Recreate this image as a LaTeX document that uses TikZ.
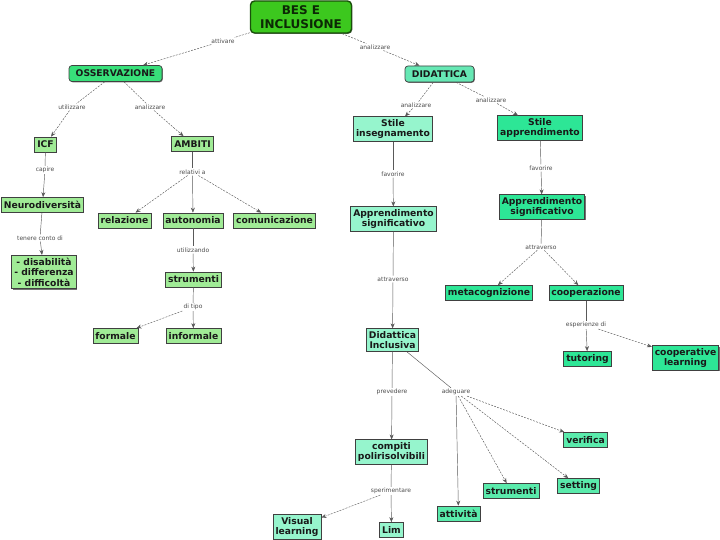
\documentclass[tikz,border=0pt]{standalone}
\usepackage{fontspec}
\setmainfont{DejaVu Sans}
\usetikzlibrary{arrows.meta,shadows}
\definecolor{besg}{RGB}{60,200,30}
\definecolor{besd}{RGB}{25,80,10}
\definecolor{ossg}{RGB}{56,224,122}
\definecolor{didg}{RGB}{102,232,180}
\definecolor{lgr}{RGB}{160,235,150}
\definecolor{laq}{RGB}{150,245,205}
\definecolor{maq}{RGB}{45,230,150}
\definecolor{maqb}{RGB}{90,235,172}
\tikzset{
  cbox/.style={draw=black!75, line width=0.7pt, inner xsep=2.5pt, inner ysep=2.5pt, align=center,
    minimum height=15pt,
    font=\fontsize{9.2}{10.5}\selectfont\bfseries, text=black!90,
    drop shadow={shadow xshift=0.8pt, shadow yshift=-0.8pt, opacity=0.55, fill=black}},
  lg/.style={cbox, fill=lgr},
  la/.style={cbox, fill=laq},
  ma/.style={cbox, fill=maq},
  mb/.style={cbox, fill=maqb},
  ossbox/.style={cbox, fill=ossg, rounded corners=3pt, minimum width=93pt, minimum height=16pt},
  didbox/.style={cbox, fill=didg, rounded corners=3pt, minimum width=69pt, minimum height=16pt},
  besbox/.style={cbox, fill=besg, draw=besd, line width=1.4pt, rounded corners=4pt,
    minimum width=101pt, minimum height=32pt, font=\fontsize{12}{14}\selectfont\bfseries, text=besd!50!black},
  lbl/.style={font=\fontsize{6}{7}\selectfont, text=black!70, inner sep=1pt},
  ln/.style={draw=black!65, line width=0.45pt},
  lnd/.style={ln, dash pattern=on 2pt off 1.2pt},
  arr/.style={-{Stealth[length=5pt,width=4pt]}},
}
\begin{document}
\begin{tikzpicture}[x=1pt,y=-1pt]
\useasboundingbox (0,0) rectangle (720,540);
% concepts
\node[besbox] (bes) at (301,17) {BES E\\INCLUSIONE};
\node[ossbox] (oss) at (115.5,73.5) {OSSERVAZIONE};
\node[didbox] (did) at (439.5,74) {DIDATTICA};
\node[lg] (icf) at (45.5,144.5) {ICF};
\node[lg] (amb) at (192.5,144) {AMBITI};
\node[lg] (neu) at (42.5,205) {Neurodiversità};
\node[lg] (rel) at (124.5,220.5) {relazione};
\node[lg] (aut) at (193,220.5) {autonomia};
\node[lg] (com) at (274.5,220.5) {comunicazione};
\node[lg] (dis) at (44,272) {- disabilità\\- differenza\\- difficoltà};
\node[lg] (strA) at (193.5,279.5) {strumenti};
\node[lg] (frm) at (115.5,336) {formale};
\node[lg] (inf) at (193.5,336) {informale};
\node[la] (sti) at (393,129) {Stile\\insegnamento};
\node[ma] (sta) at (540,128) {Stile\\apprendimento};
\node[la] (apsA) at (393.5,219) {Apprendimento\\significativo};
\node[ma] (apsB) at (542,207) {Apprendimento\\significativo};
\node[ma] (met) at (489,293) {metacognizione};
\node[ma] (coo) at (586,293) {cooperazione};
\node[la] (dinc) at (392.5,340) {Didattica\\Inclusiva};
\node[ma] (tut) at (587.5,359) {tutoring};
\node[ma] (cl) at (685.5,358) {cooperative\\learning};
\node[mb] (ver) at (585.5,440) {verifica};
\node[la] (cp) at (391.5,452) {compiti\\polirisolvibili};
\node[mb] (strB) at (511,491) {strumenti};
\node[mb] (sett) at (578.5,486) {setting};
\node[mb] (att) at (458.5,513.5) {attività};
\node[la] (vl) at (297,527) {Visual\\learning};
\node[la] (lim) at (391.5,530) {Lim};
% link labels
\node[lbl] (l1) at (223,41) {attivare};
\node[lbl] (l2) at (375,47) {analizzare};
\node[lbl] (l3) at (72,107) {utilizzare};
\node[lbl] (l4) at (150,107) {analizzare};
\node[lbl] (l5) at (45,170) {capire};
\node[lbl] (l6) at (40,238) {tenere conto di};
\node[lbl] (l7) at (192.5,172) {relativi a};
\node[lbl] (l8) at (193,250) {utilizzando};
\node[lbl] (l9) at (193,307) {di tipo};
\node[lbl] (l10) at (416,105) {analizzare};
\node[lbl] (l11) at (491,100) {analizzare};
\node[lbl] (l12) at (393,174) {favorire};
\node[lbl] (l13) at (541,168) {favorire};
\node[lbl] (l14) at (393,279) {attraverso};
\node[lbl] (l15) at (541,247) {attraverso};
\node[lbl] (l16) at (586,325) {esperienze di};
\node[lbl] (l17) at (392,392) {prevedere};
\node[lbl] (l18) at (456,392) {adeguare};
\node[lbl] (l19) at (391,491) {sperimentare};
% connectors
\draw[lnd] (bes) -- (l1);  \draw[lnd,arr] (l1) -- (oss);
\draw[lnd] (bes) -- (l2);  \draw[lnd,arr] (l2) -- (did);
\draw[lnd] (oss) -- (l3);  \draw[lnd,arr] (l3) -- (icf);
\draw[lnd] (oss) -- (l4);  \draw[lnd,arr] (l4) -- (amb);
\draw[ln] (icf) -- (l5);   \draw[ln,arr] (l5) -- (neu);
\draw[ln] (neu) -- (l6);   \draw[ln,arr] (l6) -- (dis);
\draw[ln] (amb) -- (l7);
\draw[lnd,arr] (l7) -- (rel);
\draw[ln,arr] (l7) -- (aut);
\draw[lnd,arr] (l7) -- (com);
\draw[ln] (aut) -- (l8);   \draw[ln,arr] (l8) -- (strA);
\draw[ln] (strA) -- (l9);
\draw[lnd,arr] (l9) -- (frm);
\draw[ln,arr] (l9) -- (inf);
\draw[lnd] (did) -- (l10); \draw[lnd,arr] (l10) -- (sti);
\draw[lnd] (did) -- (l11); \draw[lnd,arr] (l11) -- (sta);
\draw[ln] (sti) -- (l12);  \draw[ln,arr] (l12) -- (apsA);
\draw[ln] (sta) -- (l13);  \draw[ln,arr] (l13) -- (apsB);
\draw[ln] (apsA) -- (l14); \draw[ln,arr] (l14) -- (dinc);
\draw[ln] (apsB) -- (l15);
\draw[lnd,arr] (l15) -- (met);
\draw[lnd,arr] (l15) -- (coo);
\draw[ln] (coo) -- (l16);
\draw[ln,arr] (l16) -- (tut);
\draw[lnd,arr] (l16) -- (cl);
\draw[ln] (dinc) -- (l17); \draw[ln,arr] (l17) -- (cp);
\draw[ln] (dinc) -- (l18);
\draw[ln,arr] (l18) -- (att);
\draw[lnd,arr] (l18) -- (strB);
\draw[lnd,arr] (l18) -- (sett);
\draw[lnd,arr] (l18) -- (ver);
\draw[ln] (cp) -- (l19);
\draw[lnd,arr] (l19) -- (vl);
\draw[ln,arr] (l19) -- (lim);
\end{tikzpicture}
\end{document}
